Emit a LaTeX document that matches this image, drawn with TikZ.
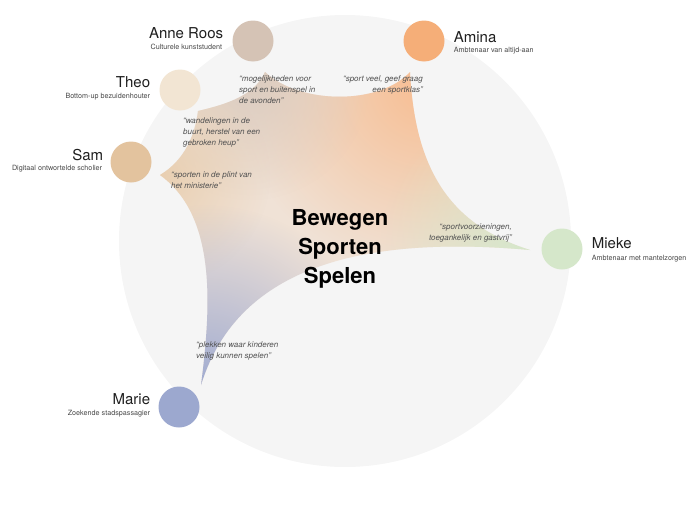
\documentclass[tikz,border=0pt]{standalone}
\usepackage{fontspec}
\setmainfont{TeX Gyre Heros}
\usetikzlibrary{positioning,fadings}

\definecolor{achtergrond}{HTML}{F5F5F5}
\definecolor{anneKleur}{HTML}{D5C3B5}
\definecolor{aminaKleur}{HTML}{F5AE78}
\definecolor{theoKleur}{HTML}{F2E5D3}
\definecolor{samKleur}{HTML}{E3C39E}
\definecolor{miekeKleur}{HTML}{D5E7CA}
\definecolor{marieKleur}{HTML}{9CA8CF}
\definecolor{sterBasis}{HTML}{F0E2D6}

\tikzfading[name=uitvloei, inner color=transparent!0, outer color=transparent!100]

\tikzset{
  persoon/.style={circle, minimum size=41pt, inner sep=0pt},
  naam/.style={inner sep=0pt, text=black!88, font=\fontsize{15}{17}\selectfont},
  rol/.style={inner sep=0pt, text=black!72, font=\fontsize{7.2}{9}\selectfont},
  citaat/.style={inner sep=0pt, align=left, text=black!68,
    font=\fontsize{8}{11}\selectfont\itshape},
  thema/.style={inner sep=0pt, align=center, text=black,
    font=\fontsize{22}{29}\selectfont\bfseries},
}

\begin{document}
\begin{tikzpicture}[x=1pt,y=-1pt]
    \useasboundingbox (0,0) rectangle (699,506);

    % grote achtergrondcirkel
    \fill[achtergrond] (345,241) circle (226);

    % punten van de ster
    \coordinate (pAnne) at (265,72);
    \coordinate (pAmina) at (410,72);
    \coordinate (pMieke) at (530,250);
    \coordinate (pMarie) at (201,385);
    \coordinate (pSam) at (160,175);
    \coordinate (pTheo) at (198,111);

    % ster met kleurverloop
    \begin{scope}
        \clip (pAnne) .. controls (300,105) and (380,105) .. (pAmina)
            .. controls (415,170) and (450,225) .. (pMieke)
            .. controls (330,232) and (232,285) .. (pMarie)
            .. controls (212,300) and (215,215) .. (pSam)
            .. controls (185,160) and (195,135) .. (pTheo)
            .. controls (228,104) and (255,95) .. (pAnne) -- cycle;
        \fill[sterBasis] (0,0) rectangle (699,506);
        \fill[aminaKleur!80, path fading=uitvloei] (425,85) circle (190);
        \fill[anneKleur!85, path fading=uitvloei] (250,80) circle (120);
        \fill[samKleur!80, path fading=uitvloei] (160,175) circle (110);
        \fill[marieKleur!95, path fading=uitvloei] (205,385) circle (180);
        \fill[miekeKleur, path fading=uitvloei] (530,250) circle (150);
    \end{scope}

    % personen
    \node[persoon, fill=anneKleur] (anne) at (253,41) {};
    \node[persoon, fill=aminaKleur] (amina) at (424,41) {};
    \node[persoon, fill=theoKleur] (theo) at (180,90) {};
    \node[persoon, fill=samKleur] (sam) at (131,162) {};
    \node[persoon, fill=miekeKleur] (mieke) at (562,249) {};
    \node[persoon, fill=marieKleur] (marie) at (179,407) {};

    \node[naam, anchor=east] (anneNaam) at ([xshift=-9pt,yshift=8pt]anne.west) {Anne Roos};
    \node[rol, anchor=east] (anneRol) at ([xshift=-10pt,yshift=-6pt]anne.west) {Culturele kunststudent};
    \node[naam, anchor=west] (aminaNaam) at ([xshift=9pt,yshift=4pt]amina.east) {Amina};
    \node[rol, anchor=west] (aminaRol) at ([xshift=9pt,yshift=-10pt]amina.east) {Ambtenaar van altijd-aan};
    \node[naam, anchor=east] (theoNaam) at ([xshift=-9pt,yshift=8pt]theo.west) {Theo};
    \node[rol, anchor=east] (theoRol) at ([xshift=-9pt,yshift=-7pt]theo.west) {Bottom-up bezuidenhouter};
    \node[naam, anchor=east] (samNaam) at ([xshift=-7pt,yshift=7pt]sam.west) {Sam};
    \node[rol, anchor=east] (samRol) at ([xshift=-8pt,yshift=-7pt]sam.west) {Digitaal ontwortelde scholier};
    \node[naam, anchor=west] (miekeNaam) at ([xshift=9pt,yshift=6pt]mieke.east) {Mieke};
    \node[rol, anchor=west] (miekeRol) at ([xshift=9pt,yshift=-10pt]mieke.east) {Ambtenaar met mantelzorgen};
    \node[naam, anchor=east] (marieNaam) at ([xshift=-8pt,yshift=8pt]marie.west) {Marie};
    \node[rol, anchor=east] (marieRol) at ([xshift=-8pt,yshift=-7pt]marie.west) {Zoekende stadspassagier};

    % citaten
    \node[citaat, anchor=north west] (citaatAnne) at (239,75) {“mogelijkheden voor\\sport en buitenspel in\\de avonden”};
    \node[citaat, anchor=north east, align=right] (citaatAmina) at (423,75) {“sport veel, geef graag\\een sportklas”};
    \node[citaat, anchor=north west] (citaatTheo) at (183,117) {“wandelingen in de\\buurt, herstel van een\\gebroken heup”};
    \node[citaat, anchor=north west] (citaatSam) at (171,171) {“sporten in de plint van\\het ministerie”};
    \node[citaat, anchor=north east, align=right] (citaatMieke) at (512,224) {“sportvoorzieningen,\\toegankelijk en gastvrij”};
    \node[citaat, anchor=north west] (citaatMarie) at (196,341) {“plekken waar kinderen\\veilig kunnen spelen”};

    % thema
    \node[thema] (themaTekst) at (340,249) {Bewegen\\Sporten\\Spelen};
\end{tikzpicture}
\end{document}
